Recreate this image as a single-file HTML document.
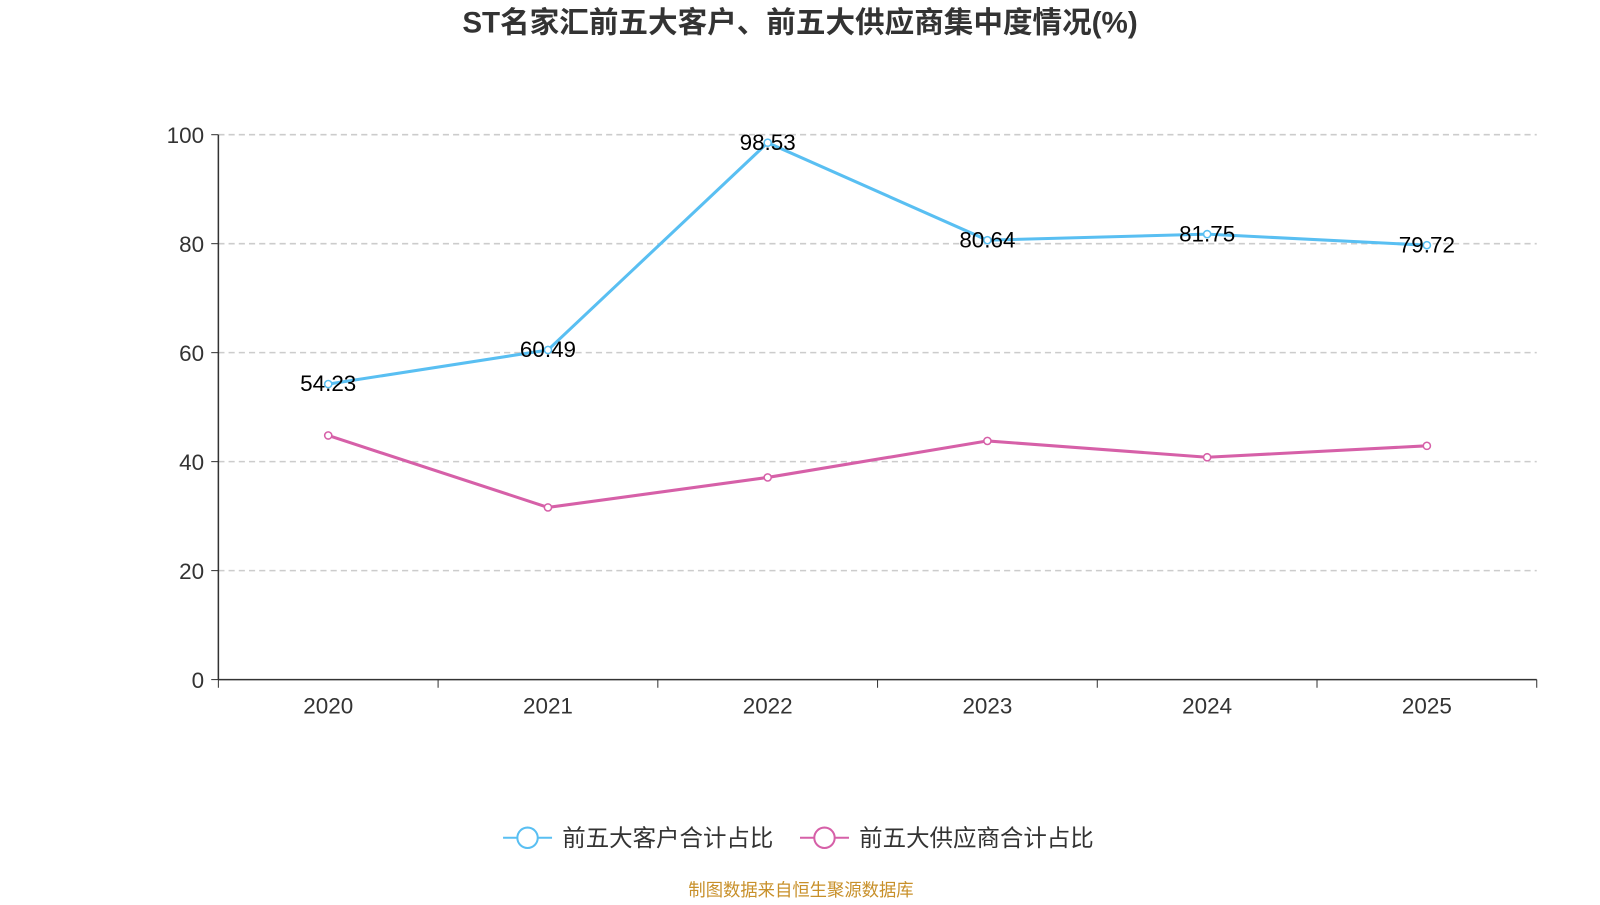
<!DOCTYPE html>
<html><head><meta charset="utf-8"><style>
body{margin:0;background:#fff;width:1600px;height:900px;overflow:hidden;font-family:"Liberation Sans","Noto Sans CJK SC",sans-serif;}
</style></head><body>
<svg width="1600" height="900" viewBox="0 0 1568 882" xmlns="http://www.w3.org/2000/svg">
<text x="784" y="32" text-anchor="middle" font-size="29" font-weight="bold" fill="#333" font-family="Liberation Sans, Noto Sans CJK SC, sans-serif">ST名家汇前五大客户、前五大供应商集中度情况(%)</text>
<g id="grid"></g><g id="axes"></g><g id="series"></g>
<g>
<g>
<line x1="493" y1="821" x2="541" y2="821" stroke="#59bff2" stroke-width="2"/>
<circle cx="517" cy="821" r="10" fill="#fff" stroke="#59bff2" stroke-width="2"/>
<text x="551" y="829" font-size="23" fill="#333">前五大客户合计占比</text></g>
<g>
<line x1="784" y1="821" x2="832" y2="821" stroke="#d660a8" stroke-width="2"/>
<circle cx="808" cy="821" r="10" fill="#fff" stroke="#d660a8" stroke-width="2"/>
<text x="842" y="829" font-size="23" fill="#333">前五大供应商合计占比</text></g>
</g>
<text x="785" y="878" text-anchor="middle" font-size="17" fill="#c8902a">制图数据来自恒生聚源数据库</text>
</svg>
<script>
const categories=["2020","2021","2022","2023","2024","2025"];
const customers=[54.23,60.49,98.53,80.64,81.75,79.72];
const suppliers=[44.8,31.6,37.1,43.8,40.8,42.9];
const yTicks=[0,20,40,60,80,100];
const NS="http://www.w3.org/2000/svg";
const L=214,R=1506,T=132,B=666;
const xs=i=>L+(R-L)/categories.length*(i+0.5);
const ys=v=>B-(B-T)*v/100;
function mk(tag,attrs,parent){const e=document.createElementNS(NS,tag);for(const k in attrs)e.setAttribute(k,attrs[k]);document.getElementById(parent).appendChild(e);return e;}
yTicks.forEach(v=>{
 if(v>0){const g=mk('line',{x1:L,x2:R,y1:ys(v),y2:ys(v),stroke:'#ccc','stroke-dasharray':'6,4','stroke-width':1.5},'grid');
 
 }
 const tk=mk('line',{x1:L-7,x2:L,y1:ys(v),y2:ys(v),stroke:'#333'},'axes');
 const t=mk('text',{x:L-14,y:ys(v)+8,'text-anchor':'end','font-size':22,fill:'#333'},'axes');t.textContent=v;
 
 
});
const ya=mk('line',{x1:L,x2:L,y1:T,y2:B,stroke:'#333','stroke-width':1.5},'axes');


const xa=mk('line',{x1:L,x2:R,y1:B,y2:B,stroke:'#333','stroke-width':1.5},'axes');


for(let i=0;i<=categories.length;i++){const x=L+(R-L)/categories.length*i;mk('line',{x1:x,x2:x,y1:B,y2:B+8,stroke:'#333'},'axes');}
categories.forEach((c,i)=>{const t=mk('text',{x:xs(i),y:699,'text-anchor':'middle','font-size':22,fill:'#333'},'axes');t.textContent=c;
 
 });
function series(vals,color,name,labels){
 const p=mk('polyline',{points:vals.map((v,i)=>xs(i)+','+ys(v)).join(' '),fill:'none',stroke:color,'stroke-width':3},'series');
 
 
 vals.forEach((v,i)=>{const c=mk('circle',{cx:xs(i),cy:ys(v),r:3.5,fill:'#fff',stroke:color,'stroke-width':1.5},'series');
  
  
  if(labels){const t=mk('text',{x:xs(i),y:ys(v)+7,'text-anchor':'middle','font-size':22,fill:'#000'},'series');t.textContent=v.toFixed(2);
  
  }
 });
}
series(suppliers,'#d660a8','suppliers',false);
series(customers,'#59bff2','customers',true);
</script>
</body></html>
